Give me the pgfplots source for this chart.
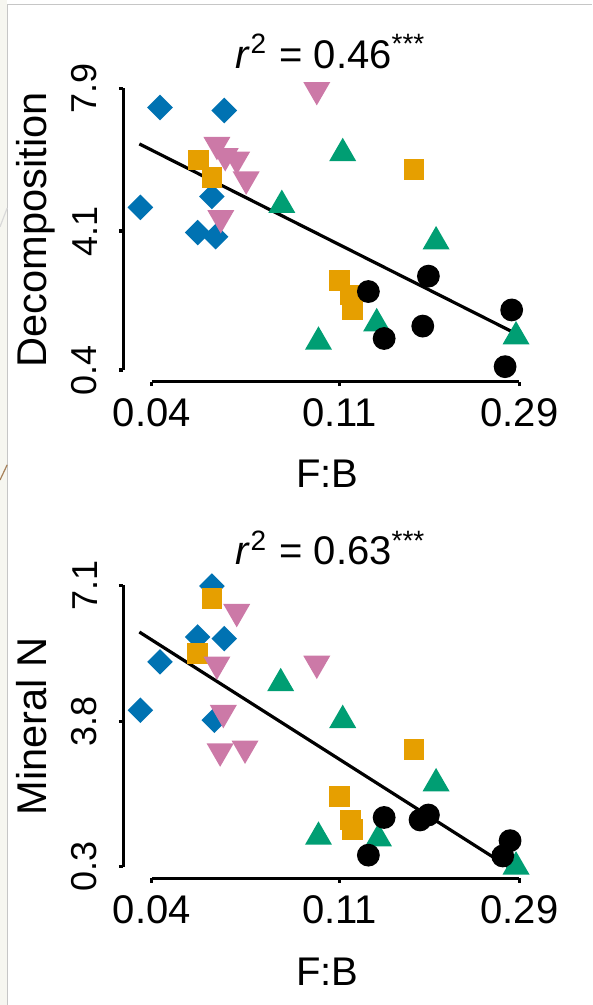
\documentclass[border=0pt]{standalone}
\usepackage{fontspec}
\setmainfont{Liberation Sans}
\usepackage{pgfplots}
\pgfplotsset{compat=1.18}

\definecolor{okblue}{HTML}{0072B2}
\definecolor{okorange}{HTML}{E69F00}
\definecolor{okgreen}{HTML}{009E73}
\definecolor{okpink}{HTML}{CC79A7}
\definecolor{slidestrip}{HTML}{F6F6F0}

% R style filled marks, centred like pch 17/18/25
\pgfdeclareplotmark{rdiamond}{%
  \pgfpathmoveto{\pgfqpoint{0pt}{\pgfplotmarksize}}%
  \pgfpathlineto{\pgfqpoint{\pgfplotmarksize}{0pt}}%
  \pgfpathlineto{\pgfqpoint{0pt}{-\pgfplotmarksize}}%
  \pgfpathlineto{\pgfqpoint{-\pgfplotmarksize}{0pt}}%
  \pgfpathclose\pgfusepathqfill}
\pgfdeclareplotmark{rtriup}{%
  \pgfpathmoveto{\pgfqpoint{0pt}{\pgfplotmarksize}}%
  \pgfpathlineto{\pgfqpoint{.866\pgfplotmarksize}{-.5\pgfplotmarksize}}%
  \pgfpathlineto{\pgfqpoint{-.866\pgfplotmarksize}{-.5\pgfplotmarksize}}%
  \pgfpathclose\pgfusepathqfill}
\pgfdeclareplotmark{rtridown}{%
  \pgfpathmoveto{\pgfqpoint{0pt}{-\pgfplotmarksize}}%
  \pgfpathlineto{\pgfqpoint{.866\pgfplotmarksize}{.5\pgfplotmarksize}}%
  \pgfpathlineto{\pgfqpoint{-.866\pgfplotmarksize}{.5\pgfplotmarksize}}%
  \pgfpathclose\pgfusepathqfill}

\pgfplotsset{
  fbpanel/.style={
    scale only axis, width=101.93pt, height=75.85pt,
    anchor=south west,
    xmin=0.0343, xmax=0.3088,
    xtick={0.04,0.11,0.29}, xticklabels={0.04,0.11,0.29},
    axis line style={draw=none},
    tick pos=left, tick align=outside,
    major tick length=1.1pt,
    tick style={black, line width=0.8pt},
    xticklabel style={font=\fontsize{10}{12}\selectfont, inner sep=0pt, anchor=north},
    yticklabel style={font=\fontsize{9}{11}\selectfont, inner sep=0pt, rotate=90, anchor=south},
    xticklabel shift=3pt, yticklabel shift=5.2pt,
    clip=false,
  },
  pblue/.style={only marks, mark=rdiamond, mark size=3.2pt, okblue},
  porange/.style={only marks, mark=square*, mark size=2.4pt, okorange, mark options={draw=none}},
  ppink/.style={only marks, mark=rtridown, mark size=3.9pt, okpink},
  pgreen/.style={only marks, mark=rtriup, mark size=3.9pt, okgreen},
  pblack/.style={only marks, mark=*, mark size=2.65pt, black, mark options={draw=none}},
  fitline/.style={black, line width=0.8pt, no marks},
}

\newcommand{\lab}{\fontsize{10}{12}\selectfont}

\begin{document}
\begin{tikzpicture}
\path[use as bounding box] (0,0) rectangle (148pt,-251.25pt);
% slide frame
\fill[slidestrip] (0,0) rectangle (1.8pt,-251.25pt);
\draw[gray!45, line width=0.4pt] (1.83pt,-251.25pt) -- (1.83pt,-1.1pt) -- (148pt,-1.1pt);
\draw[gray!30, line width=0.3pt] (0,-56.7pt) -- (1.8pt,-52pt);
\draw[brown!60!gray, line width=0.3pt] (0,-120pt) -- (1.8pt,-116.2pt);

% top panel: decomposition
\begin{axis}[xmode=log, fbpanel, at={(30.83pt,-95.43pt)},
  ymin=0.089, ymax=8.167,
  ytick={0.4,4.1,7.9}, yticklabels={0.4,4.1,7.9}]
\addplot[pblue] coordinates {(0.0418,7.39)(0.0591,7.31)(0.0376,4.73)(0.0553,5.02)(0.0512,4.06)(0.0564,3.95)};
\addplot[porange] coordinates {(0.0514,5.99)(0.0553,5.53)(0.1644,5.73)(0.1099,2.78)(0.1165,2.40)(0.1181,2.02)};
\addplot[ppink] coordinates {(0.0973,7.86)(0.0568,6.40)(0.0594,6.10)(0.0632,6.01)(0.0665,5.48)(0.0580,4.45)};
\addplot[pgreen] coordinates {(0.1119,6.17)(0.0806,4.79)(0.1851,3.82)(0.0982,1.15)(0.1344,1.64)(0.2848,1.29)};
\addplot[pblack] coordinates {(0.1776,2.90)(0.1285,2.49)(0.2782,2.00)(0.1723,1.57)(0.1399,1.24)(0.2685,0.49)};
\addplot[fitline] coordinates {(0.0374,6.42)(0.2869,1.35)};
\draw[line width=0.8pt] (axis cs:0.04,0.089) -- (axis cs:0.29,0.089);
\draw[line width=0.8pt] (axis cs:0.0343,0.4) -- (axis cs:0.0343,7.9);
\node[anchor=base, font=\lab, inner sep=0pt] at ([xshift=1pt, yshift=2.5pt]rel axis cs:0.5,1) {\textit{r}\textsuperscript{2} = 0.46\textsuperscript{***}};
\node[anchor=base, font=\lab, inner sep=0pt] at ([yshift=-26.4pt]rel axis cs:0.5,0) {F:B};
\node[anchor=base, rotate=90, font=\fontsize{10.4}{12}\selectfont, inner sep=0pt] at ([xshift=-19.1pt]rel axis cs:0,0.5) {Decomposition};
\end{axis}

% bottom panel: mineral N
\begin{axis}[xmode=log, fbpanel, at={(30.83pt,-219.58pt)},
  ymin=0.02, ymax=7.35,
  ytick={0.3,3.8,7.1}, yticklabels={0.3,3.8,7.1}]
\addplot[pblue] coordinates {(0.0553,7.08)(0.0512,5.85)(0.0591,5.81)(0.0418,5.25)(0.0376,4.08)(0.0560,3.84)};
\addplot[porange] coordinates {(0.0553,6.78)(0.0512,5.45)(0.1644,3.13)(0.1099,1.99)(0.1169,1.43)(0.1181,1.20)};
\addplot[ppink] coordinates {(0.0632,6.46)(0.0568,5.19)(0.0973,5.21)(0.0588,4.02)(0.0578,3.09)(0.0661,3.16)};
\addplot[pgreen] coordinates {(0.0801,4.73)(0.1119,3.84)(0.1851,2.31)(0.0982,1.02)(0.1357,0.98)(0.2848,0.30)};
\addplot[pblack] coordinates {(0.1399,1.49)(0.1698,1.43)(0.1776,1.55)(0.1285,0.58)(0.2758,0.93)(0.2651,0.56)};
\addplot[fitline] coordinates {(0.0374,5.97)(0.2869,0.16)};
\draw[line width=0.8pt] (axis cs:0.04,0.02) -- (axis cs:0.29,0.02);
\draw[line width=0.8pt] (axis cs:0.0343,0.3) -- (axis cs:0.0343,7.1);
\node[anchor=base, font=\lab, inner sep=0pt] at ([xshift=1pt, yshift=2.5pt]rel axis cs:0.5,1) {\textit{r}\textsuperscript{2} = 0.63\textsuperscript{***}};
\node[anchor=base, font=\lab, inner sep=0pt] at ([yshift=-26.9pt]rel axis cs:0.5,0) {F:B};
\node[anchor=base, rotate=90, font=\fontsize{10.4}{12}\selectfont, inner sep=0pt] at ([xshift=-19.1pt]rel axis cs:0,0.5) {Mineral N};
\end{axis}
\end{tikzpicture}
\end{document}
